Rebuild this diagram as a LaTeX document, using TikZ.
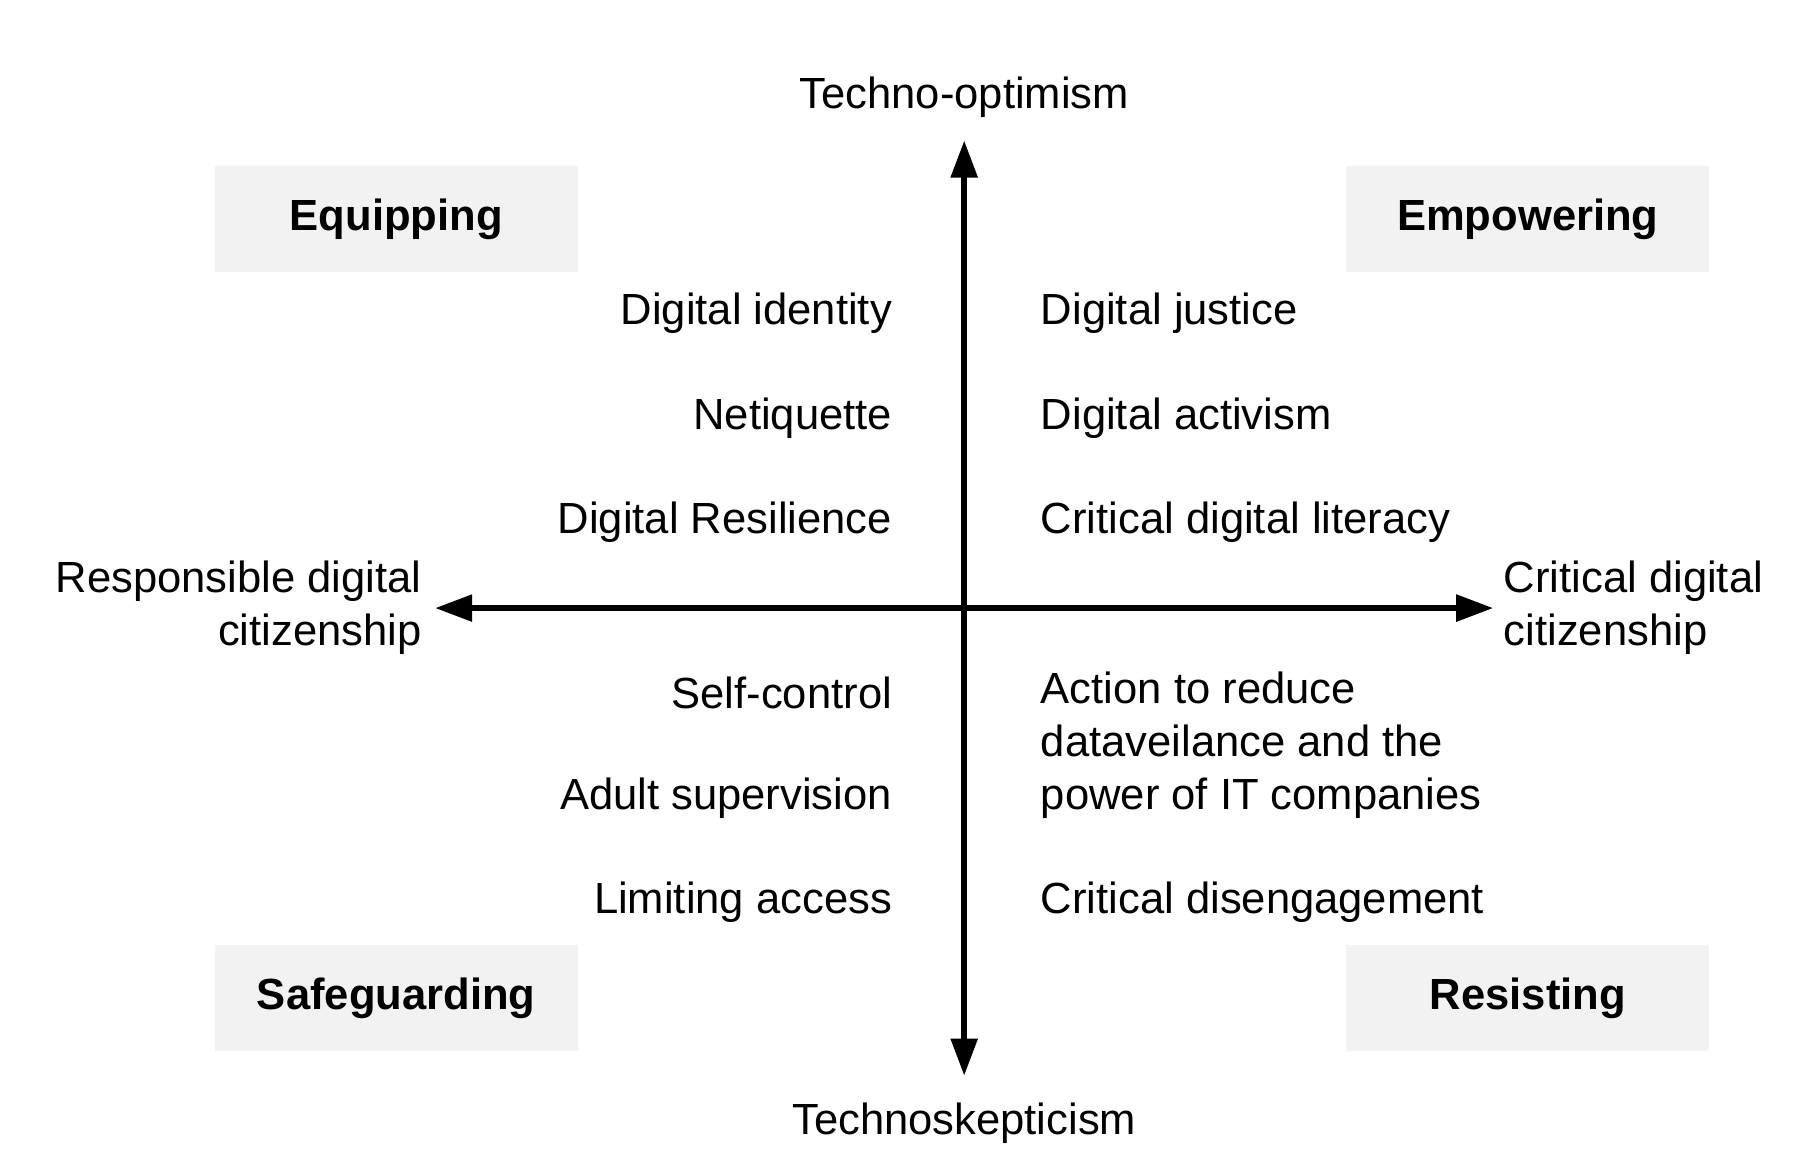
\documentclass[tikz,border=0pt]{standalone}
\usepackage{fontspec}
\setmainfont{Liberation Sans}
\usetikzlibrary{arrows.meta}
\definecolor{boxgray}{HTML}{F2F2F2}
\begin{document}
\begin{tikzpicture}[
    every node/.style = {font=\fontsize{12.4}{15}\selectfont, inner sep=0pt},
    quadbox/.style = {fill=boxgray, minimum width=3.63cm, minimum height=1.054cm, font=\fontsize{12.4}{15}\selectfont\bfseries},
    leftitem/.style = {anchor=east},
    rightitem/.style = {anchor=west, align=left},
    axis/.style = {{Triangle[length=3.7mm, width=2.6mm]}-{Triangle[length=3.7mm, width=2.6mm]}, line width=1.6pt}
]
    \useasboundingbox (-9.642, -5.679) rectangle (8.518, 6.081);

    % Draw axes
    \coordinate (nya) at (0, -4.675);
    \coordinate (pya) at (0, 4.675);
    \coordinate (nxa) at (-5.29, 0);
    \coordinate (pxa) at (5.29, 0);
    \draw [axis] (nxa) -- (pxa);
    \draw [axis] (nya) -- (pya);
    \node (lpya) at (0, 5.11) {Techno-optimism};
    \node (lnya) at (0, -5.15) {Technoskepticism};
    \node [anchor=east, align=right] (lnxa) at (-5.42, 0) {Responsible digital\\citizenship};
    \node [anchor=west, align=left] (lpxa) at (5.39, 0) {Critical digital\\citizenship};

    % Quadrant labels
    \node [quadbox] (equip) at (-5.68, 3.89) {Equipping};
    \node [quadbox] (empower) at (5.636, 3.89) {Empowering};
    \node [quadbox] (safe) at (-5.68, -3.90) {Safeguarding};
    \node [quadbox] (resist) at (5.636, -3.90) {Resisting};

    % Left items
    \node [leftitem] (ident) at (-0.715, 2.946) {Digital identity};
    \node [leftitem] (neti) at (-0.715, 1.901) {Netiquette};
    \node [leftitem] (resil) at (-0.715, 0.859) {Digital Resilience};
    \node [leftitem] (selfc) at (-0.715, -0.844) {Self-control};
    \node [leftitem] (adult) at (-0.715, -1.898) {Adult supervision};
    \node [leftitem] (limit) at (-0.715, -2.941) {Limiting access};

    % Right items
    \node [rightitem] (just) at (0.76, 2.946) {Digital justice};
    \node [rightitem] (activ) at (0.76, 1.901) {Digital activism};
    \node [rightitem] (liter) at (0.76, 0.859) {Critical digital literacy};
    \node [rightitem] (action) at (0.76, -1.371) {Action to reduce\\dataveilance and the\\power of IT companies};
    \node [rightitem] (diseng) at (0.76, -2.941) {Critical disengagement};

\end{tikzpicture}
\end{document}
